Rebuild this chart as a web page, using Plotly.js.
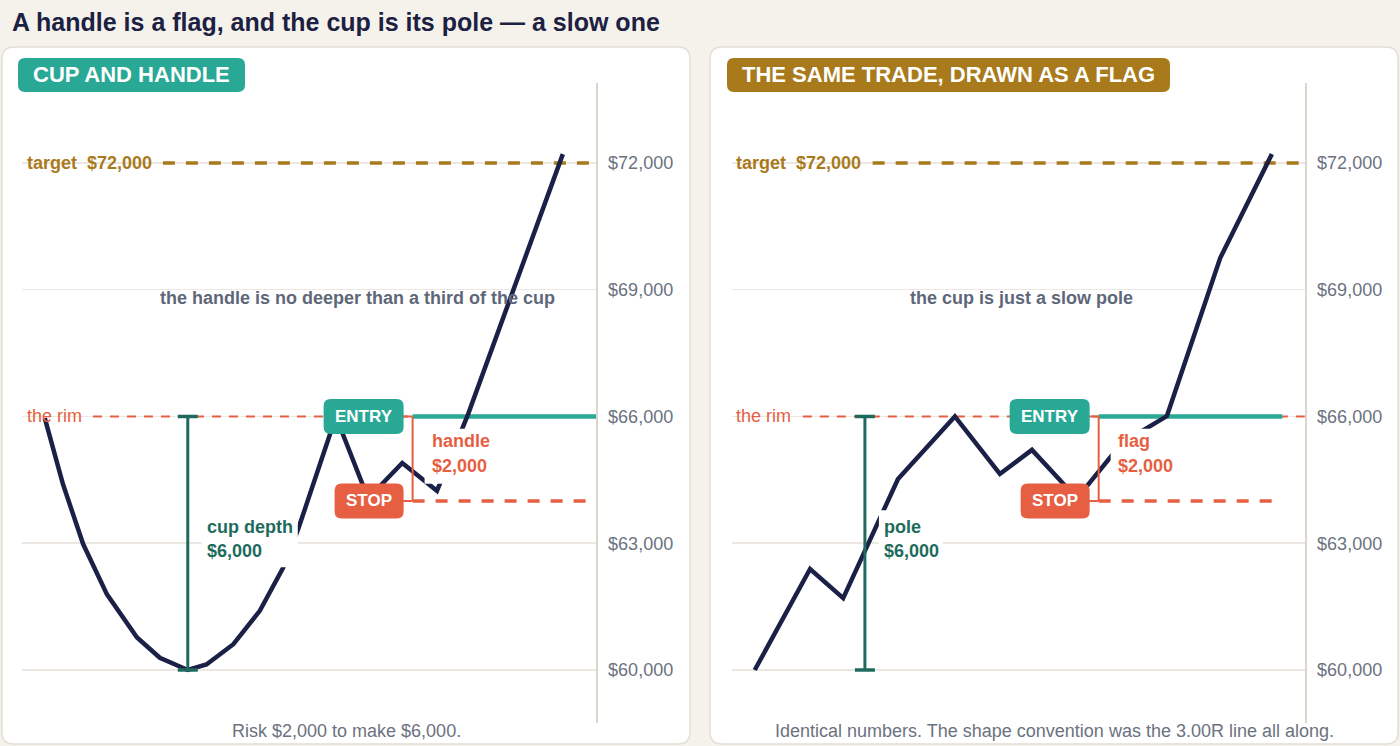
<!DOCTYPE html>
<html><head><meta charset="utf-8">
<script src="https://cdn.plot.ly/plotly-3.0.1.min.js"></script>
<style>html,body{margin:0;padding:0;background:#f5f2ec;}#chart{width:1400px;height:746px;}</style>
</head><body><div id="chart"></div>
<script>
// ---------- data ----------
const cupDays  = [0, 1.6, 3.5, 7.4, 12.0, 17.8, 22.2, 27.6, 31.2, 36.4, 41.5, 46.0, 48.9, 56.2, 62.4, 69.0, 75.7, 81.7, 100];
const cupPrice = [65960, 65260, 64400, 62980, 61790, 60770, 60290, 60000, 60130, 60610, 61400, 62420, 63330, 66000, 64060, 64900, 64240, 66050, 72210];
const flagDays  = [0, 10.7, 17.1, 27.7, 38.7, 47.4, 53.6, 62.3, 71.0, 79.7, 90.0, 100];
const flagPrice = [60000, 62390, 61700, 64520, 66000, 64640, 65210, 64060, 65370, 66010, 69750, 72210];
const yTicks = [60000, 63000, 66000, 69000, 72000];
const targetPrice = 72000;
const rimPrice = 66000;
const stopPrice = 64000;
const lowPrice = 60000;
const panelTitles = ["CUP AND HANDLE", "THE SAME TRADE, DRAWN AS A FLAG"];
const midNotes = ["the handle is no deeper than a third of the cup", "the cup is just a slow pole"];
const depthNames = ["cup depth", "pole"];
const riskNames = ["handle", "flag"];
const captions = ["Risk $2,000 to make $6,000.", "Identical numbers. The shape convention was the 3.00R line all along."];
const chartTitle = "A handle is a flag, and the cup is its pole \u2014 a slow one";

// ---------- style ----------
const W = 1400, H = 746;
const FONT = "Liberation Sans, Arial, sans-serif";
const NAVY = "#1b2146", TEAL = "#2aa896", DTEAL = "#1e6b5d", CORAL = "#e65f42", GOLD = "#a87a1c";
const GRID = "#ece8e1", AXL = "#dcd7cd", TICK = "#6b7280", NOTE = "#5e6779";
const fmt = v => "$" + v.toLocaleString("en-US");

function rr(x0, y0, x1, y1, r) { // page px, y down -> paper path
  const X = v => (v / W).toFixed(5), Y = v => (1 - v / H).toFixed(5);
  return `M${X(x0+r)},${Y(y0)} L${X(x1-r)},${Y(y0)} Q${X(x1)},${Y(y0)} ${X(x1)},${Y(y0+r)} L${X(x1)},${Y(y1-r)} Q${X(x1)},${Y(y1)} ${X(x1-r)},${Y(y1)} L${X(x0+r)},${Y(y1)} Q${X(x0)},${Y(y1)} ${X(x0)},${Y(y1-r)} L${X(x0)},${Y(y0+r)} Q${X(x0)},${Y(y0)} ${X(x0+r)},${Y(y0)} Z`;
}
function rrPix(x0, x1, yb, yt, r) { // pixel offsets, y up
  return `M${x0+r},${yt} L${x1-r},${yt} Q${x1},${yt} ${x1},${yt-r} L${x1},${yb+r} Q${x1},${yb} ${x1-r},${yb} L${x0+r},${yb} Q${x0},${yb} ${x0},${yb+r} L${x0},${yt-r} Q${x0},${yt} ${x0+r},${yt} Z`;
}

const panels = [
  {xr: "x", yr: "y", days: cupDays, price: cupPrice, barDay: 27.6, brDay: 71.0, entryEnd: 106.4, stopEnd: 106.4, midDay: 60.3, depthW: 110,
   card: [2, 47, 690, 744], badge: [18, 58, 245, 92], badgeColor: TEAL, labelX: 26, capX: 346},
  {xr: "x2", yr: "y2", days: flagDays, price: flagPrice, barDay: 21.3, brDay: 66.5, entryEnd: 102, stopEnd: 102, midDay: 51.5, depthW: 78,
   card: [710, 47, 1398, 744], badge: [727, 58, 1170, 92], badgeColor: GOLD, labelX: 735, capX: 1054}
];

const traces = [];
const shapes = [];
const ann = [];

ann.push({xref: "paper", yref: "paper", x: 10 / W, y: 1 - 22 / H, xanchor: "left", yanchor: "middle", showarrow: false,
  text: chartTitle, font: {family: FONT, size: 25, weight: 700, color: "#1c2142"}});

panels.forEach((p, i) => {
  const c = p.card, b = p.badge;
  shapes.push({type: "path", xref: "paper", yref: "paper", path: rr(c[0], c[1], c[2], c[3], 12), fillcolor: "#ffffff", line: {color: "#e3ded5", width: 1.5}, layer: "below"});
  shapes.push({type: "path", xref: "paper", yref: "paper", path: rr(b[0], b[1], b[2], b[3], 7), fillcolor: p.badgeColor, line: {width: 0}, layer: "below"});
  ann.push({xref: "paper", yref: "paper", x: (b[0] + b[2]) / 2 / W, y: 1 - (b[1] + b[3]) / 2 / H, xanchor: "center", yanchor: "middle", showarrow: false,
    text: panelTitles[i], font: {family: FONT, size: 22, weight: 700, color: "#ffffff"}});

  traces.push({x: p.days, y: p.price, xaxis: p.xr, yaxis: p.yr, type: "scatter", mode: "lines",
    line: {color: NAVY, width: 4.5}, hoverinfo: "skip", showlegend: false});

  const xr = p.xr, yr = p.yr;
  // level lines
  shapes.push({type: "line", xref: xr, yref: yr, x0: 22.8, x1: 106.4, y0: targetPrice, y1: targetPrice, line: {color: GOLD, width: 3.5, dash: "12px,11px"}, layer: "between"});
  shapes.push({type: "line", xref: xr, yref: yr, x0: 9.3, x1: 106.4, y0: rimPrice, y1: rimPrice, line: {color: CORAL, width: 2, dash: "9px,8px"}, layer: "between"});
  shapes.push({type: "line", xref: xr, yref: yr, x0: p.brDay, x1: p.entryEnd, y0: rimPrice, y1: rimPrice, line: {color: TEAL, width: 4.5}, layer: "between"});
  shapes.push({type: "line", xref: xr, yref: yr, x0: p.brDay, x1: p.stopEnd, y0: stopPrice, y1: stopPrice, line: {color: CORAL, width: 3.5, dash: "12px,11px"}, layer: "between"});

  // label backgrounds
  shapes.push({type: "rect", xref: xr, yref: yr, xsizemode: "pixel", ysizemode: "pixel", xanchor: p.barDay, yanchor: 63000,
    x0: 14, x1: p.depthW, y0: -24, y1: 33, fillcolor: "#ffffff", line: {width: 0}, layer: "above"});
  shapes.push({type: "rect", xref: xr, yref: yr, xsizemode: "pixel", ysizemode: "pixel", xanchor: p.brDay, yanchor: 65000,
    x0: 12, x1: 82, y0: -25, y1: 30, fillcolor: "#ffffff", line: {width: 0}, layer: "above"});

  // depth bar
  shapes.push({type: "line", xref: xr, yref: yr, x0: p.barDay, x1: p.barDay, y0: lowPrice, y1: rimPrice, line: {color: DTEAL, width: 3}, layer: "above"});
  [lowPrice, rimPrice].forEach(v => shapes.push({type: "line", xref: xr, yref: yr, xsizemode: "pixel", xanchor: p.barDay, x0: -10, x1: 10, y0: v, y1: v, line: {color: DTEAL, width: 3.5}, layer: "above"}));

  // risk bracket
  shapes.push({type: "line", xref: xr, yref: yr, x0: p.brDay, x1: p.brDay, y0: stopPrice, y1: rimPrice, line: {color: CORAL, width: 2}, layer: "above"});
  [stopPrice, rimPrice].forEach(v => shapes.push({type: "line", xref: xr, yref: yr, xsizemode: "pixel", xanchor: p.brDay, x0: -10, x1: 0, y0: v, y1: v, line: {color: CORAL, width: 2}, layer: "above"}));

  // ENTRY / STOP boxes
  shapes.push({type: "path", xref: xr, yref: yr, xsizemode: "pixel", ysizemode: "pixel", xanchor: p.brDay, yanchor: rimPrice,
    path: rrPix(-89, -9, -17.5, 17.5, 7), fillcolor: TEAL, line: {width: 0}, layer: "above"});
  shapes.push({type: "path", xref: xr, yref: yr, xsizemode: "pixel", ysizemode: "pixel", xanchor: p.brDay, yanchor: stopPrice,
    path: rrPix(-78, -9, -17.5, 17.5, 7), fillcolor: CORAL, line: {width: 0}, layer: "above"});
  ann.push({xref: xr, yref: yr, x: p.brDay, y: rimPrice, xshift: -49, showarrow: false, xanchor: "center", yanchor: "middle",
    text: "ENTRY", font: {family: FONT, size: 17, weight: 700, color: "#ffffff"}});
  ann.push({xref: xr, yref: yr, x: p.brDay, y: stopPrice, xshift: -43.5, showarrow: false, xanchor: "center", yanchor: "middle",
    text: "STOP", font: {family: FONT, size: 17, weight: 700, color: "#ffffff"}});

  // text labels
  ann.push({xref: "paper", yref: yr, x: p.labelX / W, y: targetPrice, xanchor: "left", yanchor: "middle", showarrow: false, borderpad: 0,
    text: "target\u00a0\u00a0" + fmt(targetPrice), font: {family: FONT, size: 18, weight: 700, color: GOLD}});
  ann.push({xref: "paper", yref: yr, x: p.labelX / W, y: rimPrice, xanchor: "left", yanchor: "middle", showarrow: false, borderpad: 0,
    text: "the rim", font: {family: FONT, size: 18, color: CORAL}});
  ann.push({xref: xr, yref: yr, x: p.midDay, y: 68800, xanchor: "center", yanchor: "middle", showarrow: false,
    text: midNotes[i], font: {family: FONT, size: 18, weight: 700, color: NOTE}});
  ann.push({xref: xr, yref: yr, x: p.barDay, y: 63000, xshift: 18, yshift: 16, xanchor: "left", yanchor: "middle", showarrow: false, borderpad: 0,
    text: depthNames[i], font: {family: FONT, size: 18, weight: 700, color: DTEAL}});
  ann.push({xref: xr, yref: yr, x: p.barDay, y: 63000, xshift: 18, yshift: -8, xanchor: "left", yanchor: "middle", showarrow: false, borderpad: 0,
    text: fmt(rimPrice - lowPrice), font: {family: FONT, size: 18, weight: 700, color: DTEAL}});
  ann.push({xref: xr, yref: yr, x: p.brDay, y: 65000, xshift: 18, yshift: 17.5, xanchor: "left", yanchor: "middle", showarrow: false, borderpad: 0,
    text: riskNames[i], font: {family: FONT, size: 18, weight: 700, color: CORAL}});
  ann.push({xref: xr, yref: yr, x: p.brDay, y: 65000, xshift: 18, yshift: -7.5, xanchor: "left", yanchor: "middle", showarrow: false, borderpad: 0,
    text: fmt(rimPrice - stopPrice), font: {family: FONT, size: 18, weight: 700, color: CORAL}});
  ann.push({xref: "paper", yref: "paper", x: p.capX / W, y: 1 - 731 / H, xanchor: "center", yanchor: "middle", showarrow: false,
    text: captions[i], font: {family: FONT, size: 18, color: TICK}});
});

const xBase = {range: [-4.4, 106.4], visible: false, showgrid: false, zeroline: false, fixedrange: true};
const yBase = {range: [58745, 73893], domain: [23 / H, 663 / H], side: "right", tickvals: yTicks, ticktext: yTicks.map(fmt),
  showgrid: true, gridcolor: GRID, gridwidth: 1.5, zeroline: false, showline: true, linecolor: AXL, linewidth: 1.5,
  ticks: "outside", ticklen: 7, tickcolor: "rgba(0,0,0,0)", tickfont: {family: FONT, size: 18, color: TICK}, fixedrange: true};

const layout = {
  width: W, height: H, margin: {l: 0, r: 0, t: 0, b: 0},
  paper_bgcolor: "#f5f2ec", plot_bgcolor: "rgba(0,0,0,0)", showlegend: false,
  font: {family: FONT},
  xaxis: Object.assign({}, xBase, {domain: [22 / W, 596 / W], anchor: "y"}),
  xaxis2: Object.assign({}, xBase, {domain: [732 / W, 1305 / W], anchor: "y2"}),
  yaxis: Object.assign({}, yBase, {anchor: "x"}),
  yaxis2: Object.assign({}, yBase, {anchor: "x2"}),
  shapes: shapes, annotations: ann
};

Plotly.newPlot("chart", traces, layout, {staticPlot: true, displayModeBar: false});
</script>
</body></html>
